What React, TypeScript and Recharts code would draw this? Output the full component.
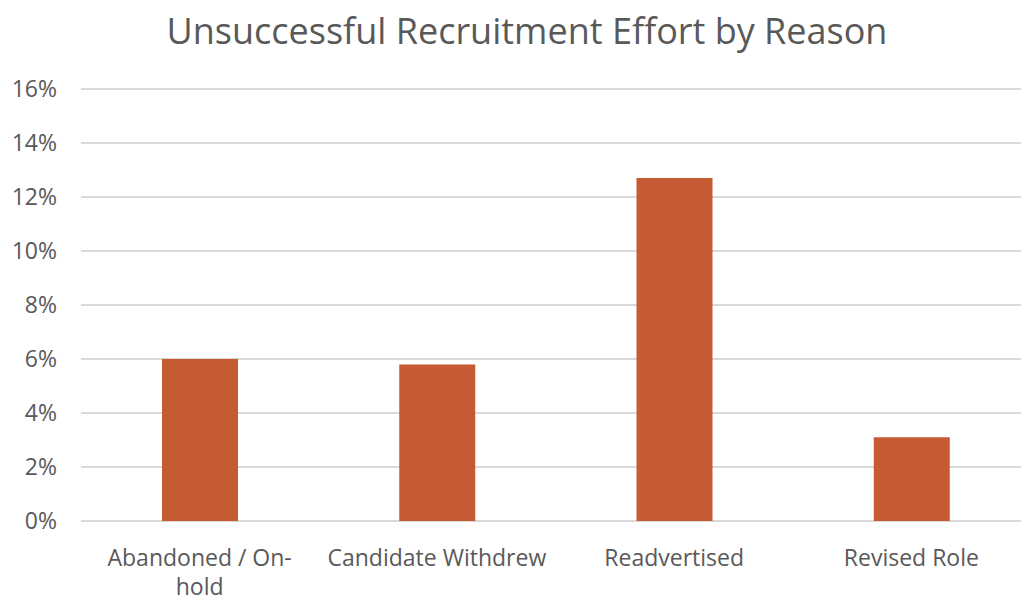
import React from 'react';
import { BarChart, Bar, XAxis, YAxis, CartesianGrid } from 'recharts';

const reasons = ['Abandoned / On-hold', 'Candidate Withdrew', 'Readvertised', 'Revised Role'];
const shares = [0.06, 0.058, 0.127, 0.031];
const yTicks = [0, 0.02, 0.04, 0.06, 0.08, 0.1, 0.12, 0.14, 0.16];

const data = reasons.map((reason, i) => ({ reason, share: shares[i] }));

const FONT = '"Open Sans", "Noto Sans", sans-serif';
const GREY = '#595959';

// Excel breaks the long label after the hyphen
const splitLabel = (label: string) => {
  const idx = label.indexOf('-');
  if (idx < 0) return [label];
  return [label.slice(0, idx + 1), label.slice(idx + 1)];
};

const XTick = ({ x, y, payload }: any) => {
  const lines = splitLabel(payload.value);
  return (
    <g transform={`translate(${x},${y})`}>
      <text textAnchor="middle" fill={GREY} fontSize={23} fontFamily={FONT}>
        {lines.map((line, i) => (
          <tspan key={i} x={0} dy={i === 0 ? 43 : 29}>
            {line}
          </tspan>
        ))}
      </text>
    </g>
  );
};

export default function App() {
  return (
    <div
      style={{
        position: 'absolute',
        left: 0,
        top: 0,
        width: 1021,
        height: 601,
        overflow: 'hidden',
        background: '#fff',
      }}
    >
      <div
        style={{
          position: 'absolute',
          top: 6,
          left: 0,
          width: 1054,
          textAlign: 'center',
          fontFamily: FONT,
          fontSize: 36,
          lineHeight: 'normal',
          color: GREY,
        }}
      >
        Unsuccessful Recruitment Effort by Reason
      </div>
      <div style={{ position: 'absolute', left: 0, top: 0 }}>
        <BarChart
          width={1040}
          height={601}
          data={data}
          margin={{ top: 89, right: 10, left: 0, bottom: 50 }}
        >
          <CartesianGrid vertical={false} stroke="#d9d9d9" strokeWidth={2} />
          <XAxis
            dataKey="reason"
            height={30}
            axisLine={false}
            tickLine={false}
            tickSize={0}
            interval={0}
            tick={<XTick />}
          />
          <YAxis
            width={81}
            domain={[0, 0.16]}
            ticks={yTicks}
            axisLine={false}
            tickLine={false}
            tickSize={0}
            tickMargin={24}
            tickFormatter={(v) => `${Math.round(v * 100)}%`}
            tick={{ fill: GREY, fontSize: 23, fontFamily: FONT }}
          />
          <Bar dataKey="share" fill="#C65B33" barSize={76} isAnimationActive={false} />
        </BarChart>
      </div>
    </div>
  );
}
